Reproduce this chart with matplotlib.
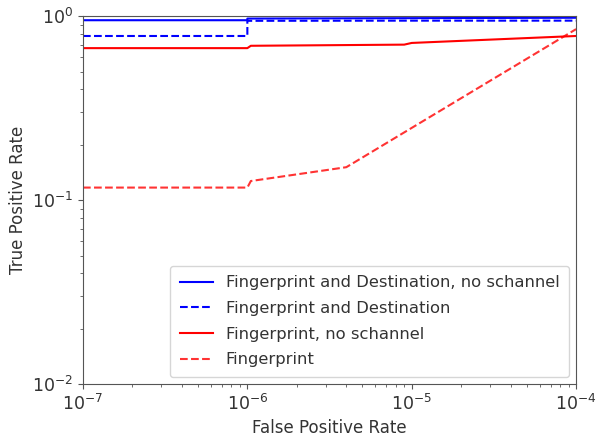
import numpy as np
import matplotlib
matplotlib.use("Agg")
import matplotlib.pyplot as plt

# ROC points
fpr_fd_nosc = [1e-7, 1e-6, 1e-6, 1e-5, 1e-4]
tpr_fd_nosc = [0.95, 0.95, 0.97, 0.975, 0.98]

fpr_fd = [1e-7, 1e-6, 1e-6, 1e-5, 1e-4]
tpr_fd = [0.78, 0.78, 0.943, 0.945, 0.945]

fpr_fp_nosc = [1e-7, 1e-6, 1.05e-6, 9e-6, 1e-5, 1e-4]
tpr_fp_nosc = [0.67, 0.67, 0.69, 0.70, 0.715, 0.78]

fpr_fp = [1e-7, 1e-6, 1.05e-6, 4e-6, 1e-4]
tpr_fp = [0.117, 0.117, 0.127, 0.151, 0.85]

plt.rcParams['text.color'] = '#333333'
plt.rcParams['axes.labelcolor'] = '#333333'
plt.rcParams['xtick.color'] = '#555555'
plt.rcParams['ytick.color'] = '#555555'
plt.rcParams['xtick.labelcolor'] = '#333333'
plt.rcParams['ytick.labelcolor'] = '#333333'
plt.rcParams['axes.edgecolor'] = '#555555'

fig = plt.figure(figsize=(5.97, 4.36), dpi=100)
ax = fig.add_axes([0.139, 0.119, 0.826, 0.844])

ax.plot(fpr_fd_nosc, tpr_fd_nosc, 'b-', label='Fingerprint and Destination, no schannel')
ax.plot(fpr_fd, tpr_fd, 'b--', label='Fingerprint and Destination')
ax.plot(fpr_fp_nosc, tpr_fp_nosc, 'r-', label='Fingerprint, no schannel')
ax.plot(fpr_fp, tpr_fp, 'r--', alpha=0.8, label='Fingerprint')

ax.set_xscale('log')
ax.set_yscale('log')
ax.set_xlim(1e-7, 1e-4)
ax.set_ylim(1e-2, 1)
ax.set_xlabel('False Positive Rate', fontsize=12)
ax.set_ylabel('True Positive Rate', fontsize=12)
ax.tick_params(labelsize=12.5)
ax.legend(loc='lower right', fontsize=11.8, borderaxespad=0.42,
          labelspacing=0.65, borderpad=0.6)

fig.savefig('out.png', dpi=100)
